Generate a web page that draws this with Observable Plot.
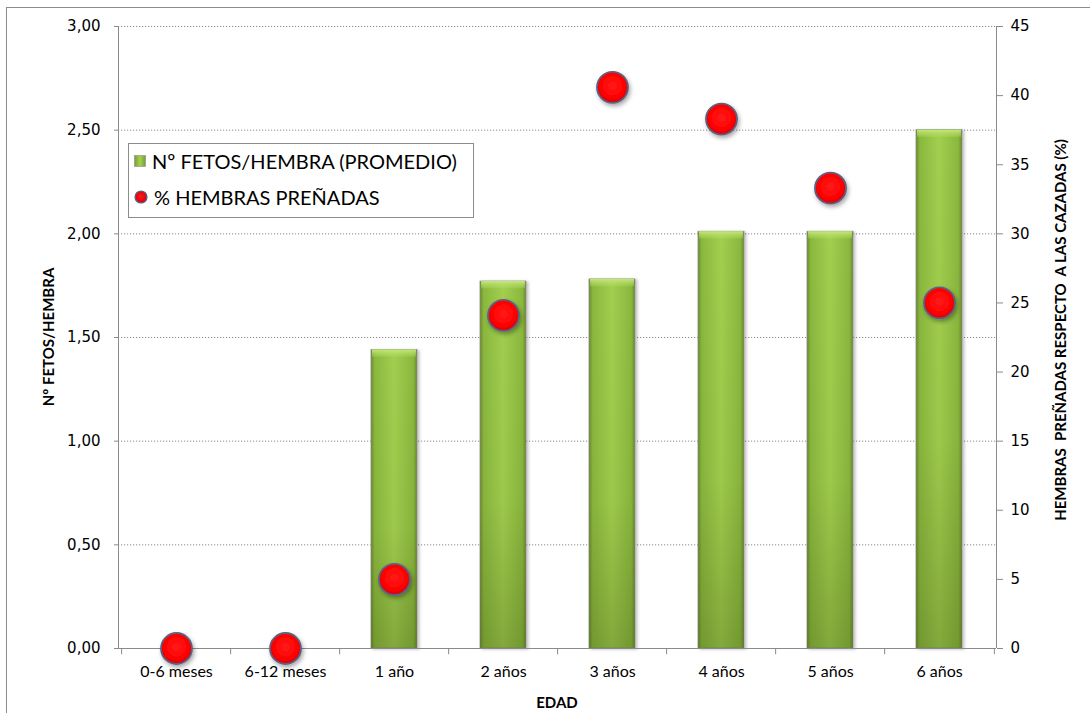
<!DOCTYPE html>
<html>
<head>
<meta charset="utf-8">
<script src="https://cdn.jsdelivr.net/npm/d3@7"></script>
<script src="https://cdn.jsdelivr.net/npm/@observablehq/plot@0.6"></script>
<style>
  html, body { margin: 0; padding: 0; background: #fff; }
  #wrap { position: relative; width: 1090px; height: 713px; overflow: hidden; }
  #wrap svg.plot { position: absolute; left: 0; top: 0; }
  .border { position: absolute; left: 6px; top: 7px; width: 1200px; height: 800px; border: 1px solid #8c8c8c; box-sizing: border-box; }
  .title { position: absolute; font-family: Lato, "Open Sans", sans-serif; font-weight: 700; font-size: 15px; color: #000; white-space: pre; }
  .legend { position: absolute; left: 128px; top: 143px; width: 346px; height: 75px; border: 1px solid #8c8c8c; background: #fff; box-sizing: border-box; font-family: Lato, "Open Sans", sans-serif; font-size: 20px; color: #000; }
  .legend .row { position: absolute; left: 5px; display: flex; align-items: center; white-space: nowrap; }
  .legend svg { margin-right: 6px; }
</style>
</head>
<body>
<div id="wrap">
  <div class="border"></div>
</div>
<script>
// ---- data ----
const categories = ["0-6 meses", "6-12 meses", "1 año", "2 años", "3 años", "4 años", "5 años", "6 años"];
const fetosPorHembra = [null, null, 1.44, 1.77, 1.78, 2.01, 2.01, 2.50];
const hembrasPrenadas = [0, 0, 5.0, 24.1, 40.6, 38.3, 33.3, 25.0];
const leftTicks = [0, 0.5, 1, 1.5, 2, 2.5, 3];
const rightTicks = [0, 5, 10, 15, 20, 25, 30, 35, 40, 45];
const seriesNames = ["Nº FETOS/HEMBRA (PROMEDIO)", "% HEMBRAS PREÑADAS"];
const xTitle = "EDAD";
const yLeftTitle = "Nº FETOS/HEMBRA";
const yRightTitle = "HEMBRAS  PREÑADAS RESPECTO  A LAS CAZADAS (%)";

// ---- derived tables ----
const leftMax = 3, rightMax = 45;
const ratio = leftMax / rightMax;
const bars = categories.map((c, i) => ({cat: c, v: fetosPorHembra[i]})).filter(d => d.v != null);
const dots = categories.map((c, i) => ({cat: c, p: hembrasPrenadas[i], y: hembrasPrenadas[i] * ratio}));
const fmtLeft = d => d3.format(".2f")(d).replace(".", ",");

const W = 1090, H = 713;
const mL = 118, mR = 94, mT = 26, mB = 65;
const step = (W - mL - mR) / categories.length;

const plot = Plot.plot({
  width: W,
  height: H,
  marginLeft: mL,
  marginRight: mR,
  marginTop: mT,
  marginBottom: mB,
  x: {domain: categories, paddingInner: 0.58, paddingOuter: 0.29, label: null},
  y: {domain: [0, leftMax], label: null},
  style: {background: "transparent", overflow: "visible"},
  marks: [
    Plot.ruleY(leftTicks.filter(d => d > 0), {stroke: "#8a8a8a", strokeWidth: 1, strokeDasharray: "1.2,1.8"}),
    Plot.barY(bars, {x: "cat", y: "v", fill: "url(#barGrad)", stroke: "#8d8d8d", strokeWidth: 0.8}),
    Plot.barY(bars, {x: "cat", y: "v", fill: "url(#barShade)"}),
    Plot.barY(bars, {x: "cat", y1: d => d.v - 0.035, y2: "v", fill: "url(#barTop)", insetLeft: 1, insetRight: 1}),
    Plot.ruleY([0], {stroke: "#8a8a8a", strokeWidth: 1}),
    Plot.ruleX(categories, {x: d => d, dx: -step / 2, y1: 0, y2: -0.03, stroke: "#8a8a8a"}),
    Plot.ruleX(categories.slice(-1), {x: d => d, dx: step / 2, y1: 0, y2: -0.03, stroke: "#8a8a8a"}),
    Plot.dot(dots, {x: "cat", y: "y", r: 15.5, fill: "url(#dotGrad)", stroke: "#5f5f80", strokeWidth: 1.8}),
    Plot.axisY({anchor: "left", ticks: leftTicks, tickFormat: fmtLeft, tickSize: 4, tickPadding: 14, stroke: "#8a8a8a", fill: "#000", fontSize: 15, fontFamily: "DejaVu Sans", label: null}),
    Plot.axisY({anchor: "right", ticks: rightTicks.map(d => d * ratio), tickFormat: d => String(Math.round(d / ratio)), tickSize: 6, tickPadding: 8, stroke: "#8a8a8a", fill: "#000", fontSize: 15, fontFamily: "DejaVu Sans", label: null}),
    Plot.axisX({anchor: "bottom", tickSize: 0, tickPadding: 17, fill: "#000", fontSize: 16, fontFamily: "Lato", label: null})
  ]
});
plot.classList.add("plot");

const svg = d3.select(plot);
svg.insert("defs", ":first-child").html(`
  <linearGradient id="barGrad" x1="0" x2="1" y1="0" y2="0">
    <stop offset="0" stop-color="#6a8a28"/>
    <stop offset="0.08" stop-color="#8ab83e"/>
    <stop offset="0.5" stop-color="#a2cf4f"/>
    <stop offset="0.92" stop-color="#8ab83e"/>
    <stop offset="1" stop-color="#6a8a28"/>
  </linearGradient>
  <linearGradient id="barShade" x1="0" x2="0" y1="0" y2="1">
    <stop offset="0" stop-color="#3c5010" stop-opacity="0"/>
    <stop offset="0.6" stop-color="#3c5010" stop-opacity="0.05"/>
    <stop offset="1" stop-color="#3c5010" stop-opacity="0.3"/>
  </linearGradient>
  <linearGradient id="barTop" x1="0" x2="0" y1="0" y2="1">
    <stop offset="0" stop-color="#c8ea7c" stop-opacity="0.95"/>
    <stop offset="1" stop-color="#b2dc62" stop-opacity="0.3"/>
  </linearGradient>
  <radialGradient id="dotGrad" cx="0.5" cy="0.45" r="0.55">
    <stop offset="0" stop-color="#ff1a1a"/>
    <stop offset="0.75" stop-color="#ff0000"/>
    <stop offset="1" stop-color="#c80010"/>
  </radialGradient>
  <filter id="shadow" x="-30%" y="-30%" width="160%" height="160%">
    <feDropShadow dx="1.5" dy="2.5" stdDeviation="2" flood-color="#000" flood-opacity="0.35"/>
  </filter>
  <filter id="barShadow" x="-20%" y="-5%" width="140%" height="110%">
    <feDropShadow dx="2" dy="1" stdDeviation="1.5" flood-color="#000" flood-opacity="0.25"/>
  </filter>
`);
svg.selectAll('g[aria-label="dot"]').attr("filter", "url(#shadow)");
svg.select('g[aria-label="bar"]').attr("filter", "url(#barShadow)");

// vertical axis lines, positioned from the plot's own scale
const ys = plot.scale("y");
const yTop = ys.apply(leftMax), yBot = ys.apply(0);
svg.append("line").attr("x1", mL + 0.5).attr("x2", mL + 0.5).attr("y1", yTop).attr("y2", yBot).attr("stroke", "#8a8a8a");
svg.append("line").attr("x1", W - mR + 0.5).attr("x2", W - mR + 0.5).attr("y1", yTop).attr("y2", yBot).attr("stroke", "#8a8a8a");

const wrap = document.getElementById("wrap");
wrap.appendChild(plot);

// titles
function addTitle(text, css) {
  const d = document.createElement("div");
  d.className = "title";
  d.textContent = text;
  Object.assign(d.style, css);
  wrap.appendChild(d);
  return d;
}
addTitle(xTitle, {left: (mL + (W - mR)) / 2 + "px", top: "702px", transform: "translate(-50%,-50%)"});
addTitle(yLeftTitle, {left: "48px", top: "337px", transform: "translate(-50%,-50%) rotate(-90deg)"});
addTitle(yRightTitle, {left: "1060px", top: "330px", transform: "translate(-50%,-50%) rotate(-90deg)"});

// legend
const lg = document.createElement("div");
lg.className = "legend";
lg.innerHTML = `
  <div class="row" style="top:4px;height:26px">
    <svg width="12" height="12"><defs><linearGradient id="lgB" x1="0" x2="1"><stop offset="0" stop-color="#7a9c30"/><stop offset="0.5" stop-color="#a5d255"/><stop offset="1" stop-color="#7a9c30"/></linearGradient></defs><rect x="0.5" y="0.5" width="11" height="11" fill="url(#lgB)" stroke="#8d8d8d" stroke-width="0.6"/></svg>
    <span>${seriesNames[0]}</span>
  </div>
  <div class="row" style="top:40px;height:26px">
    <svg width="14" height="14"><defs><radialGradient id="lgD" cx="0.5" cy="0.45" r="0.55"><stop offset="0" stop-color="#ff1a1a"/><stop offset="1" stop-color="#d00010"/></radialGradient></defs><circle cx="7" cy="7" r="6" fill="url(#lgD)" stroke="#5f5f80" stroke-width="1.2"/></svg>
    <span>${seriesNames[1]}</span>
  </div>`;
wrap.appendChild(lg);
</script>
</body>
</html>
